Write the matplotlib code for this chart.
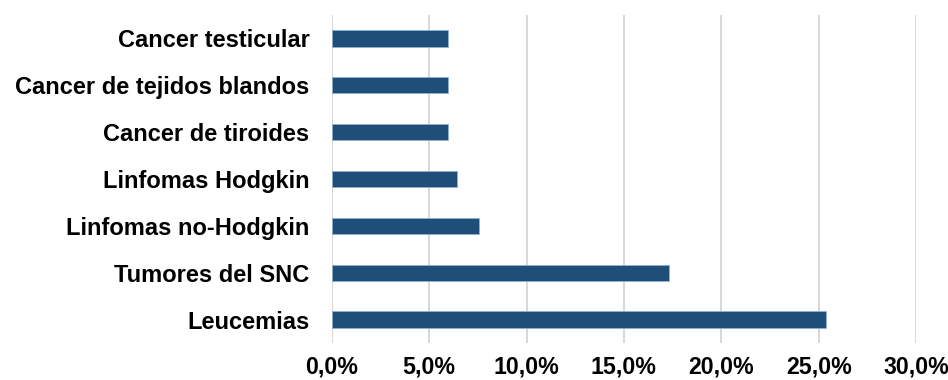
import matplotlib
matplotlib.use("Agg")
import matplotlib.pyplot as plt
from matplotlib.ticker import FuncFormatter

categories = [
    "Leucemias",
    "Tumores del SNC",
    "Linfomas no-Hodgkin",
    "Linfomas Hodgkin",
    "Cancer de tiroides",
    "Cancer de tejidos blandos",
    "Cancer testicular",
]
values = [25.4, 17.3, 7.55, 6.45, 5.95, 5.95, 5.95]
x_ticks = [0, 5, 10, 15, 20, 25, 30]

plt.rcParams["font.family"] = ["Liberation Sans", "DejaVu Sans"]

fig = plt.figure(figsize=(9.48, 3.8), dpi=100)
ax = fig.add_axes([0.35, 0.0974, 0.6163, 0.8631])

ax.barh(range(len(categories)), values, height=0.35,
        color="#1F4E79", edgecolor="#8FB0D0", linewidth=0.6, zorder=3)

ax.set_xlim(0, 30)
ax.set_ylim(-0.5, len(categories) - 0.5)
ax.set_xticks(x_ticks)
ax.xaxis.set_major_formatter(FuncFormatter(lambda v, _: f"{v:.1f}%".replace(".", ",")))
ax.set_yticks(range(len(categories)))
ax.set_yticklabels(categories)

ax.grid(axis="x", color="#D9D9D9", linewidth=1.5, zorder=0)
ax.grid(axis="y", visible=False)
for s in ax.spines.values():
    s.set_visible(False)

ax.tick_params(axis="both", length=0)
ax.tick_params(axis="y", pad=16, labelsize=17)
ax.tick_params(axis="x", pad=9, labelsize=16.7)
for lbl in ax.get_xticklabels() + ax.get_yticklabels():
    lbl.set_fontweight("bold")

fig.savefig("out.png", dpi=100)
